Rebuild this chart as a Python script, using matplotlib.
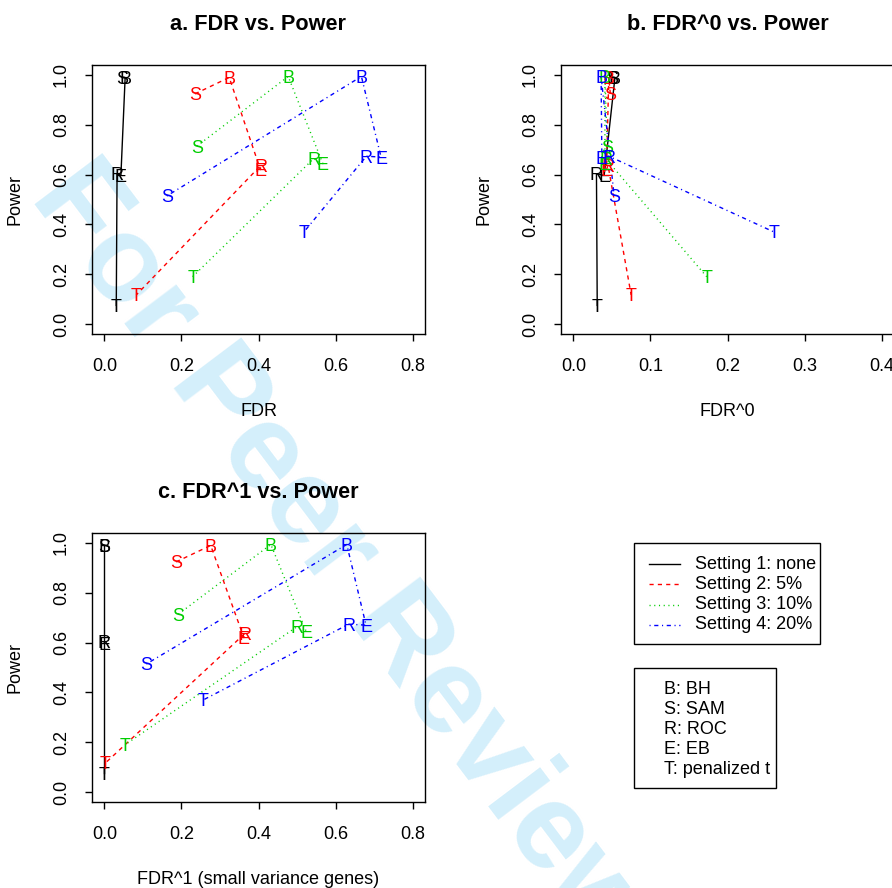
import matplotlib
matplotlib.use('Agg')
import matplotlib.pyplot as plt
import matplotlib.transforms as mtransforms
from matplotlib.patches import Rectangle

plt.rcParams['font.family'] = ['Liberation Sans', 'DejaVu Sans']

# method letters, in the order the points are joined
methods = ['S', 'B', 'E', 'R', 'T']
method_names = ['B: BH', 'S: SAM', 'R: ROC', 'E: EB', 'T: penalized t']
settings = ['Setting 1: none', 'Setting 2: 5%', 'Setting 3: 10%', 'Setting 4: 20%']

# power (same in all three panels)
power_set1 = [0.99, 0.99, 0.597, 0.603, 0.075]
power_set2 = [0.924, 0.99, 0.62, 0.637, 0.117]
power_set3 = [0.714, 0.994, 0.644, 0.664, 0.19]
power_set4 = [0.514, 0.994, 0.67, 0.674, 0.37]

# a. overall FDR
fdr_set1 = [0.046, 0.054, 0.043, 0.033, 0.031]
fdr_set2 = [0.235, 0.324, 0.405, 0.406, 0.083]
fdr_set3 = [0.24, 0.477, 0.567, 0.543, 0.229]
fdr_set4 = [0.162, 0.667, 0.718, 0.68, 0.518]

# b. FDR^0
fdr0_set1 = [0.050, 0.054, 0.040, 0.030, 0.031]
fdr0_set2 = [0.048, 0.046, 0.043, 0.045, 0.075]
fdr0_set3 = [0.044, 0.041, 0.041, 0.042, 0.173]
fdr0_set4 = [0.053, 0.036, 0.037, 0.046, 0.26]

# c. FDR^1 (small variance genes)
fdr1_set1 = [0.0, 0.0, 0.0, 0.0, 0.0]
fdr1_set2 = [0.186, 0.276, 0.362, 0.365, 0.003]
fdr1_set3 = [0.192, 0.432, 0.524, 0.5, 0.054]
fdr1_set4 = [0.109, 0.629, 0.679, 0.634, 0.257]

powers = [power_set1, power_set2, power_set3, power_set4]
colors = ['black', '#FF0000', '#00CD00', '#0000FF']
dashes = [None, (3, 3), (0.8, 2.6), (0.8, 2.6, 3, 2.6)]

W, H = 892, 888
fig = plt.figure(figsize=(W / 100, H / 100), dpi=100)

# watermark behind everything
fig.text(340 / W, 1 - 558 / H, 'For Peer Review', rotation=-53, rotation_mode='anchor',
         ha='center', va='center', fontsize=88, fontweight='bold',
         color='#d4effb', zorder=-1)


def px_box(left, top, right, bottom):
    return [left / W, 1 - bottom / H, (right - left) / W, (bottom - top) / H]


def panel(box, xs_all, xmax, xstep, title, xlabel):
    ax = fig.add_axes(px_box(*box))
    ax.set_facecolor('none')
    off = mtransforms.offset_copy(ax.transData, fig=fig, y=-4.65, units='points')
    for xs, ps, col, d in zip(xs_all, powers, colors, dashes):
        if d is None:
            ax.plot(xs, ps, color=col, lw=1)
        else:
            ax.plot(xs, ps, color=col, lw=1, dashes=d)
        for x, p, m in zip(xs, ps, methods):
            ax.text(x, p, m, color=col, fontsize=13, ha='center', va='baseline',
                    transform=off)
    pad = xmax * 0.04
    ax.set_xlim(-pad, xmax + pad)
    ax.set_ylim(-0.04, 1.04)
    nx = int(round(xmax / xstep))
    ax.set_xticks([i * xstep for i in range(nx + 1)])
    ax.set_xticklabels(['%.1f' % (i * xstep) for i in range(nx + 1)])
    ax.set_yticks([0, 0.2, 0.4, 0.6, 0.8, 1.0])
    ax.set_yticklabels(['0.0', '0.2', '0.4', '0.6', '0.8', '1.0'])
    ax.tick_params(direction='out', length=5, width=1, labelsize=13)
    ax.tick_params(axis='x', pad=12)
    ax.tick_params(axis='y', pad=11)
    for lab in ax.get_yticklabels():
        lab.set_rotation(90)
        lab.set_va('center')
    for s in ax.spines.values():
        s.set_linewidth(1)
    left, top, right, bottom = box
    cx = (left + right) / 2
    fig.text(cx / W, 1 - (top - 41) / H, title, ha='center', va='center',
             fontsize=15.6, fontweight='bold')
    fig.text(cx / W, 1 - (bottom + 77) / H, xlabel, ha='center', va='center', fontsize=13)
    fig.text((left - 77) / W, 1 - (top + bottom) / 2 / H, 'Power', rotation=90,
             ha='center', va='center', fontsize=13)
    return ax


panel((92, 65, 425, 334), [fdr_set1, fdr_set2, fdr_set3, fdr_set4], 0.8, 0.2,
      'a. FDR vs. Power', 'FDR')
panel((561, 65, 894, 334), [fdr0_set1, fdr0_set2, fdr0_set3, fdr0_set4], 0.4, 0.1,
      'b. FDR^0 vs. Power', 'FDR^0')
panel((92, 533, 425, 802), [fdr1_set1, fdr1_set2, fdr1_set3, fdr1_set4], 0.8, 0.2,
      'c. FDR^1 vs. Power', 'FDR^1 (small variance genes)')

# legends, drawn in pixel coordinates on an overlay
lg = fig.add_axes([0, 0, 1, 1])
lg.set_xlim(0, W)
lg.set_ylim(H, 0)
lg.axis('off')
lg.add_patch(Rectangle((634, 543), 186, 101, fill=False, lw=1, ec='black'))
for i, (lab, col, d) in enumerate(zip(settings, colors, dashes)):
    y = 564 + i * 20.3
    if d is None:
        lg.plot([649, 680], [y, y], color=col, lw=1)
    else:
        lg.plot([649, 680], [y, y], color=col, lw=1, dashes=d)
    lg.text(695, y, lab, fontsize=13, ha='left', va='center')

lg.add_patch(Rectangle((634, 668), 142, 120, fill=False, lw=1, ec='black'))
for i, lab in enumerate(method_names):
    lg.text(664, 689.5 + i * 19.9, lab, fontsize=13, ha='left', va='center')

plt.savefig('out.png', dpi=100)
